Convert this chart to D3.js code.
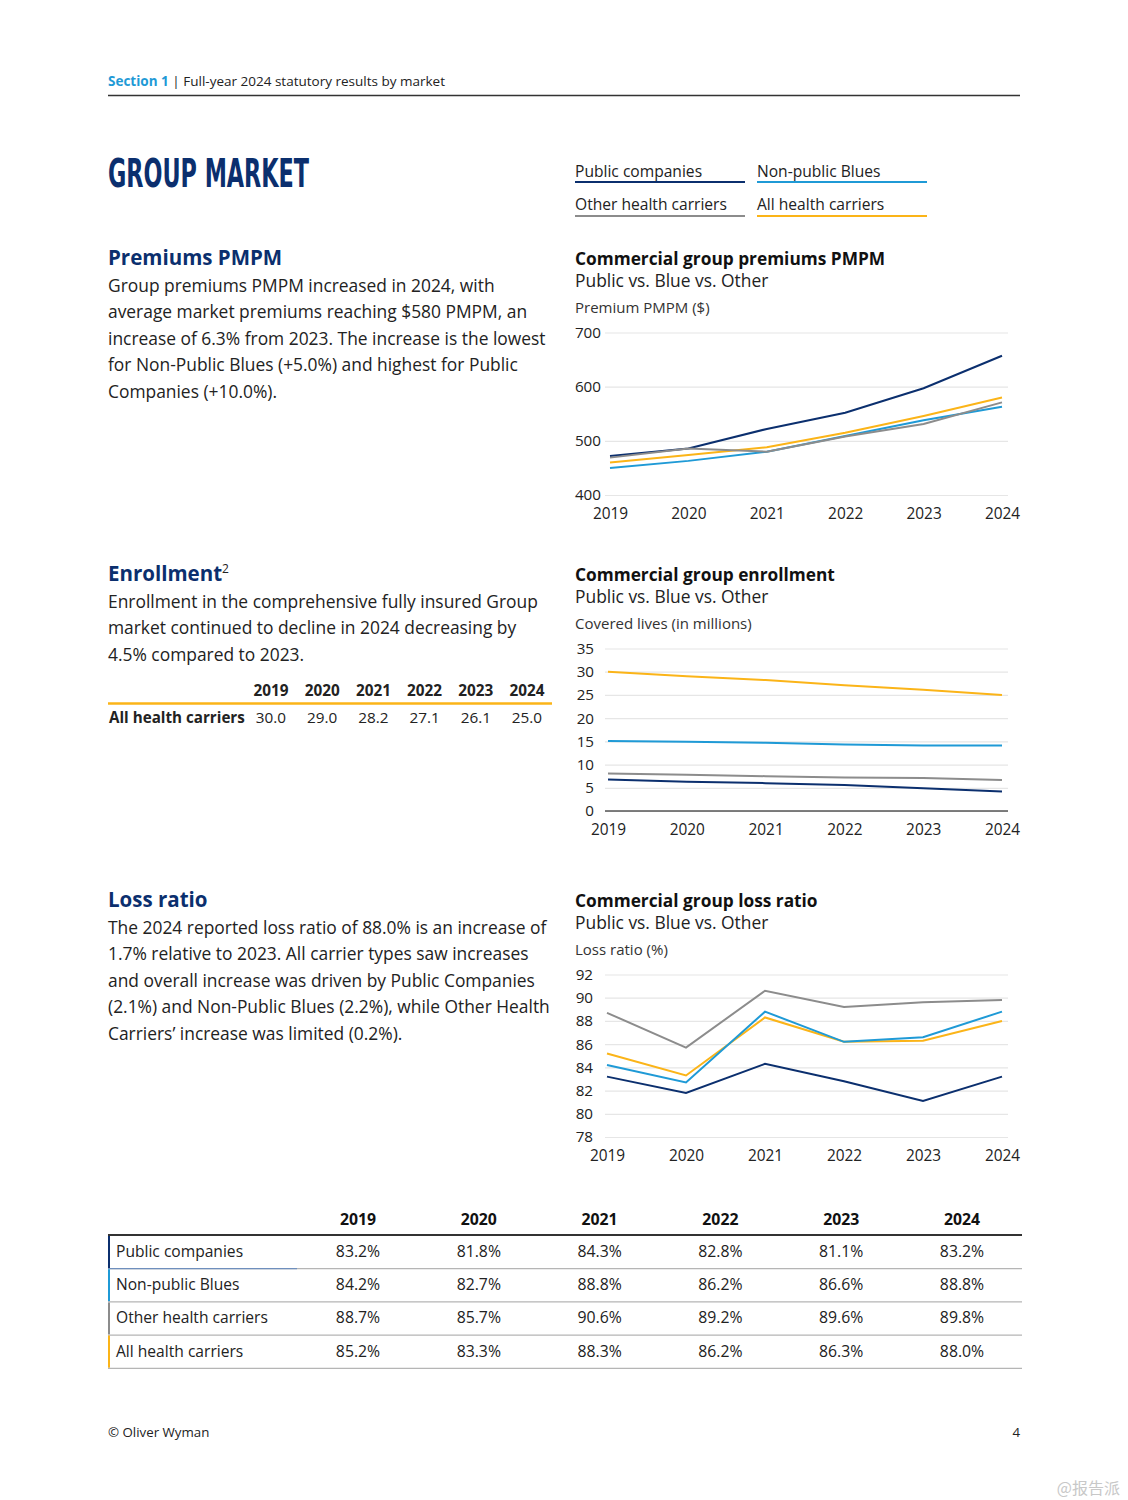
<!DOCTYPE html>
<html>
<head>
<meta charset="utf-8">
<script src="https://cdn.jsdelivr.net/npm/d3@7"></script>
<style>
  body { margin: 0; background: #fff; }
  svg text { font-family: "Open Sans", "Noto Sans", sans-serif; }
</style>
</head>
<body>
<div id="page"></div>
<script>
// ---- data ----
var years = [2019, 2020, 2021, 2022, 2023, 2024];
var seriesNames = ["Public companies", "Non-public Blues", "Other health carriers", "All health carriers"];
var seriesColors = ["#0b2f6e", "#1f9ad6", "#8c8c8c", "#fbb418"];

var premPublic = [472, 486, 522, 552, 597, 657];
var premBlue = [450, 463, 480, 509, 538, 563];
var premOther = [469, 486, 480, 508, 531, 571];
var premAll = [460, 474, 488, 515, 546, 580];
var premTicks = [400, 500, 600, 700];

var enrPublic = [6.8, 6.3, 6.0, 5.6, 4.9, 4.2];
var enrBlue = [15.1, 14.9, 14.7, 14.3, 14.1, 14.1];
var enrOther = [8.1, 7.8, 7.5, 7.2, 7.1, 6.7];
var enrAll = [30.0, 29.0, 28.2, 27.1, 26.1, 25.0];
var enrTicks = [0, 5, 10, 15, 20, 25, 30, 35];

var lossPublic = [83.2, 81.8, 84.3, 82.8, 81.1, 83.2];
var lossBlue = [84.2, 82.7, 88.8, 86.2, 86.6, 88.8];
var lossOther = [88.7, 85.7, 90.6, 89.2, 89.6, 89.8];
var lossAll = [85.2, 83.3, 88.3, 86.2, 86.3, 88.0];
var lossTicks = [78, 80, 82, 84, 86, 88, 90, 92];

var navy = "#0b2f6e";

var svg = d3.select("#page").append("svg")
  .attr("width", 1128)
  .attr("height", 1500);

// header
var head = svg.append("text").attr("x", 108).attr("y", 86).attr("font-size", 13.5).attr("fill", "#222");
head.append("tspan").attr("fill", "#1f9ad6").attr("font-weight", "bold").text("Section 1");
head.append("tspan").text(" | Full-year 2024 statutory results by market");
svg.append("line").attr("x1", 108).attr("x2", 1020).attr("y1", 95.5).attr("y2", 95.5)
  .attr("stroke", "#333").attr("stroke-width", 1.3);

// condensed display title, squeezed to the reference width
svg.append("text")
  .attr("x", 108).attr("y", 187)
  .attr("font-size", 39)
  .attr("font-weight", "bold")
  .attr("textLength", 201)
  .attr("lengthAdjust", "spacingAndGlyphs")
  .style("font-family", "'DejaVu Sans Condensed', 'Liberation Sans Narrow', sans-serif")
  .attr("fill", navy)
  .text("GROUP MARKET");

// legend
var legendPos = [[575, 177, 182], [757, 177, 182], [575, 210, 216], [757, 210, 216]];
seriesNames.forEach(function(name, i) {
  var p = legendPos[i];
  svg.append("text").attr("x", p[0]).attr("y", p[1]).attr("font-size", 15.6).attr("fill", "#222").text(name);
  svg.append("line").attr("x1", p[0]).attr("x2", p[0] + 170).attr("y1", p[2]).attr("y2", p[2])
    .attr("stroke", seriesColors[i]).attr("stroke-width", 2);
});

// left column text blocks
function textBlock(x, y, heading, lines, sup) {
  var h = svg.append("text").attr("x", x).attr("y", y).attr("font-size", 20.5)
    .attr("font-weight", "bold").attr("fill", navy).text(heading);
  if (sup) {
    h.append("tspan").attr("font-size", 12).attr("dy", -8).attr("font-weight", "normal").attr("fill", "#222").text(sup);
  }
  lines.forEach(function(l, i) {
    svg.append("text").attr("x", x).attr("y", y + 26.5 * (i + 1)).attr("font-size", 17.4)
      .attr("fill", "#222").text(l);
  });
}

textBlock(108, 265, "Premiums PMPM", [
  "Group premiums PMPM increased in 2024, with",
  "average market premiums reaching $580 PMPM, an",
  "increase of 6.3% from 2023. The increase is the lowest",
  "for Non-Public Blues (+5.0%) and highest for Public",
  "Companies (+10.0%)."
]);

textBlock(108, 581, "Enrollment", [
  "Enrollment in the comprehensive fully insured Group",
  "market continued to decline in 2024 decreasing by",
  "4.5% compared to 2023."
], "2");

textBlock(108, 907, "Loss ratio", [
  "The 2024 reported loss ratio of 88.0% is an increase of",
  "1.7% relative to 2023. All carrier types saw increases",
  "and overall increase was driven by Public Companies",
  "(2.1%) and Non-Public Blues (2.2%), while Other Health",
  "Carriers\u2019 increase was limited (0.2%)."
]);

// small enrollment table
var smallX = d3.scalePoint().domain(years).range([271, 527]);
years.forEach(function(yr, i) {
  svg.append("text").attr("x", smallX(yr)).attr("y", 696).attr("text-anchor", "middle")
    .attr("font-size", 15.3).attr("font-weight", "bold").attr("fill", "#222").text(yr);
  svg.append("text").attr("x", smallX(yr)).attr("y", 723).attr("text-anchor", "middle")
    .attr("font-size", 15.3).attr("fill", "#222").text(enrAll[i].toFixed(1));
});
svg.append("line").attr("x1", 108).attr("x2", 552).attr("y1", 703.5).attr("y2", 703.5)
  .attr("stroke", "#fbb418").attr("stroke-width", 2.5);
svg.append("text").attr("x", 109).attr("y", 723).attr("font-size", 15.2).attr("font-weight", "bold")
  .attr("fill", "#222").text("All health carriers");

// line charts
function drawChart(cfg) {
  svg.append("text").attr("x", 575).attr("y", cfg.top).attr("font-size", 17.3)
    .attr("font-weight", "bold").attr("fill", "#111").text(cfg.title);
  svg.append("text").attr("x", 575).attr("y", cfg.top + 22).attr("font-size", 17.4)
    .attr("fill", "#222").text("Public vs. Blue vs. Other");
  svg.append("text").attr("x", 575).attr("y", cfg.top + 48).attr("font-size", 15)
    .attr("fill", "#333").text(cfg.unit);

  var x = d3.scalePoint().domain(years).range(cfg.xRange);
  var y = d3.scaleLinear().domain(cfg.yDomain).range(cfg.yRange);

  var g = svg.append("g");
  var yAxis = g.append("g")
    .attr("transform", "translate(1008,0)")
    .call(d3.axisLeft(y).tickValues(cfg.ticks).tickSize(1008 - 605).tickFormat(d3.format("d")));
  yAxis.select(".domain").remove();
  yAxis.selectAll(".tick line").attr("stroke", "#e6e6e6").attr("stroke-width", 1.2);
  yAxis.selectAll(".tick text")
    .attr("x", cfg.labelX - 1008).attr("dx", 0)
    .attr("font-size", 15.2).attr("fill", "#222")
    .style("font-family", "'Open Sans', sans-serif");
  if (cfg.zeroLine) {
    g.append("line").attr("x1", 605).attr("x2", 1008)
      .attr("y1", y(cfg.yDomain[0])).attr("y2", y(cfg.yDomain[0]))
      .attr("stroke", "#555").attr("stroke-width", 1.5);
  }

  var xAxis = g.append("g")
    .attr("transform", "translate(0," + cfg.yRange[0] + ")")
    .call(d3.axisBottom(x).tickSize(0).tickPadding(cfg.xPad));
  xAxis.select(".domain").remove();
  xAxis.selectAll(".tick text").attr("font-size", 15.4).attr("fill", "#222")
    .style("font-family", "'Open Sans', sans-serif");

  var line = d3.line().x(function(d, i) { return x(years[i]); }).y(function(d) { return y(d); });
  cfg.order.forEach(function(si) {
    g.append("path").datum(cfg.series[si])
      .attr("d", line).attr("fill", "none")
      .attr("stroke", seriesColors[si]).attr("stroke-width", 2);
  });
}

drawChart({
  top: 265, title: "Commercial group premiums PMPM", unit: "Premium PMPM ($)",
  xRange: [610, 1002], yDomain: [400, 700], yRange: [495, 332.5], ticks: premTicks,
  labelX: 601, xPad: 13, zeroLine: false,
  series: [premPublic, premBlue, premOther, premAll], order: [3, 1, 0, 2]
});

drawChart({
  top: 581, title: "Commercial group enrollment", unit: "Covered lives (in millions)",
  xRange: [608, 1002], yDomain: [0, 35], yRange: [811, 648.5], ticks: enrTicks,
  labelX: 594, xPad: 13, zeroLine: true,
  series: [enrPublic, enrBlue, enrOther, enrAll], order: [3, 1, 2, 0]
});

drawChart({
  top: 907, title: "Commercial group loss ratio", unit: "Loss ratio (%)",
  xRange: [607, 1002], yDomain: [78, 92], yRange: [1137, 974.5], ticks: lossTicks,
  labelX: 593, xPad: 13, zeroLine: false,
  series: [lossPublic, lossBlue, lossOther, lossAll], order: [2, 0, 3, 1]
});

// loss ratio table
var lossRows = [lossPublic, lossBlue, lossOther, lossAll];
var tblX = d3.scalePoint().domain(years).range([358, 962]);
years.forEach(function(yr) {
  svg.append("text").attr("x", tblX(yr)).attr("y", 1225).attr("text-anchor", "middle")
    .attr("font-size", 15.8).attr("font-weight", "bold").attr("fill", "#111").text(yr);
});
svg.append("line").attr("x1", 108).attr("x2", 1022).attr("y1", 1235).attr("y2", 1235)
  .attr("stroke", "#333").attr("stroke-width", 2);
lossRows.forEach(function(row, r) {
  var top = 1236 + r * 33.2;
  var bottom = top + 32.2;
  svg.append("line").attr("x1", 109).attr("x2", 109).attr("y1", top).attr("y2", bottom)
    .attr("stroke", seriesColors[r]).attr("stroke-width", 2);
  svg.append("line").attr("x1", 108).attr("x2", 1022).attr("y1", bottom + 0.5).attr("y2", bottom + 0.5)
    .attr("stroke", "#b5b5b5").attr("stroke-width", 1.3);
  if (r === 0) {
    // first label cell has a tinted bottom rule
    svg.append("line").attr("x1", 108).attr("x2", 297).attr("y1", bottom + 0.5).attr("y2", bottom + 0.5)
      .attr("stroke", "#6f8fbd").attr("stroke-width", 1.3);
  }
  svg.append("text").attr("x", 116).attr("y", top + 21).attr("font-size", 15.6)
    .attr("fill", "#222").text(seriesNames[r]);
  row.forEach(function(v, i) {
    svg.append("text").attr("x", tblX(years[i])).attr("y", top + 21).attr("text-anchor", "middle")
      .attr("font-size", 15.8).attr("fill", "#222").text(v.toFixed(1) + "%");
  });
});

// footer
svg.append("text").attr("x", 108).attr("y", 1437).attr("font-size", 13.3).attr("fill", "#222").text("\u00a9 Oliver Wyman");
svg.append("text").attr("x", 1020).attr("y", 1437).attr("text-anchor", "end").attr("font-size", 13.3).attr("fill", "#222").text("4");
svg.append("text").attr("x", 1120).attr("y", 1494).attr("text-anchor", "end").attr("font-size", 16)
  .attr("fill", "#c8c8c8").style("font-family", "'Noto Sans CJK SC', sans-serif").text("@报告派");
</script>
</body>
</html>
